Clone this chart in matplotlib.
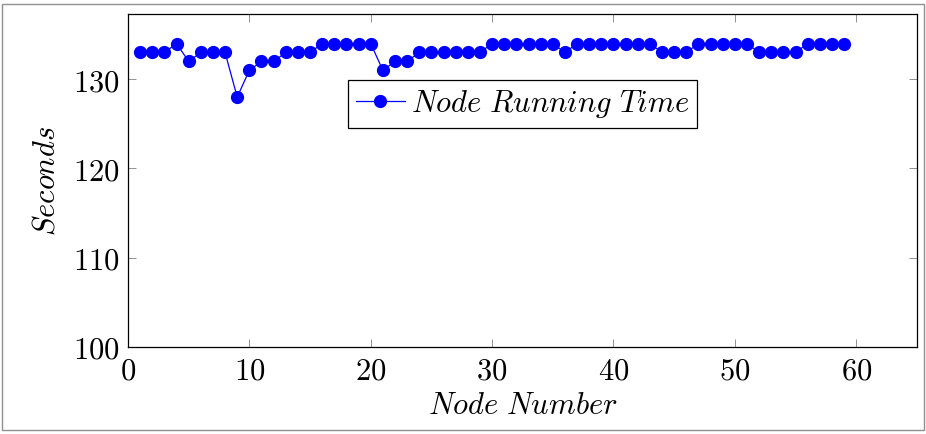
import matplotlib
matplotlib.use('Agg')
import matplotlib.pyplot as plt
from matplotlib.patches import Rectangle
from matplotlib.ticker import FuncFormatter

plt.rcParams['mathtext.fontset'] = 'cm'
plt.rcParams['font.family'] = 'serif'

# Node running time per node
nodes = list(range(1, 60))
seconds = [133, 133, 133, 134, 132, 133, 133, 133, 128, 131,
           132, 132, 133, 133, 133, 134, 134, 134, 134, 134,
           131, 132, 132, 133, 133, 133, 133, 133, 133, 134,
           134, 134, 134, 134, 134, 133, 134, 134, 134, 134,
           134, 134, 134, 133, 133, 133, 134, 134, 134, 134,
           134, 133, 133, 133, 133, 134, 134, 134, 134]
x_ticks = [0, 10, 20, 30, 40, 50, 60]
y_ticks = [100, 110, 120, 130]


def plot():
    fig = plt.figure(figsize=(9.26, 4.34), dpi=100)
    ax = fig.add_axes([0.1382, 0.2005, 0.852, 0.767])

    ax.plot(nodes, seconds, color='#0000ff', lw=0.9, marker='o',
            markersize=8.5, label=r'$Node\ Running\ Time$')

    ax.set_xlim(0, 65)
    ax.set_ylim(100, 137.3)
    ax.set_xticks(x_ticks)
    ax.set_yticks(y_ticks)
    fmt = FuncFormatter(lambda v, p: r'$%d$' % v)
    ax.xaxis.set_major_formatter(fmt)
    ax.yaxis.set_major_formatter(fmt)
    ax.tick_params(direction='in', length=6, width=0.6, color='#808080',
                   labelsize=22, top=True, right=True, pad=6)
    for s in ax.spines.values():
        s.set_linewidth(0.9)

    ax.set_xlabel(r'$Node\ Number$', fontsize=22, labelpad=3)
    ax.set_ylabel(r'$Seconds$', fontsize=22, labelpad=8)

    leg = ax.legend(loc='center', bbox_to_anchor=(0.5, 0.73), fontsize=22,
                    fancybox=False, edgecolor='black', framealpha=1,
                    handlelength=1.6, handletextpad=0.2, borderpad=0.25)
    leg.get_frame().set_linewidth(0.9)

    # outer frame around the picture
    fig.patches.append(Rectangle((2 / 926, 4 / 434), 922 / 926, 426 / 434,
                                 transform=fig.transFigure, fill=False,
                                 edgecolor='#909090', lw=1))

    fig.savefig('out.png', dpi=100)


if __name__ == '__main__':
    plot()
